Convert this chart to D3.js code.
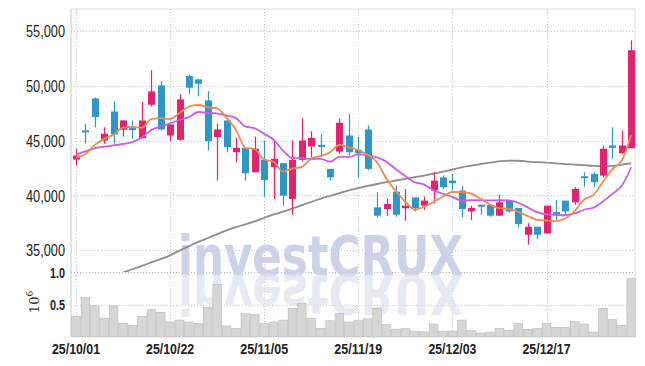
<!DOCTYPE html>
<html><head><meta charset="utf-8">
<script src="https://cdn.jsdelivr.net/npm/d3@7"></script>
<style>
html,body{margin:0;padding:0;background:#fff;}
svg{display:block;}
.tick text{font-family:"Liberation Sans",Arial,sans-serif;}
</style></head>
<body><svg id="c" width="645" height="366"></svg>
<script>
const dates = ["25/10/01","25/10/02","25/10/10","25/10/13","25/10/14","25/10/15","25/10/16","25/10/17","25/10/20","25/10/21",
"25/10/22","25/10/23","25/10/24","25/10/27","25/10/28","25/10/29","25/10/30","25/10/31","25/11/03","25/11/04",
"25/11/05","25/11/06","25/11/07","25/11/10","25/11/11","25/11/12","25/11/13","25/11/14","25/11/17","25/11/18",
"25/11/19","25/11/20","25/11/21","25/11/24","25/11/25","25/11/26","25/11/27","25/11/28","25/12/01","25/12/02",
"25/12/03","25/12/04","25/12/05","25/12/08","25/12/09","25/12/10","25/12/11","25/12/12","25/12/15","25/12/16",
"25/12/17","25/12/18","25/12/19","25/12/22","25/12/23","25/12/24","25/12/26","25/12/29","25/12/30","26/01/02"];
const opens = [43260,45920,48840,45000,47650,45980,46130,45210,48260,50030,
45460,45060,50890,50580,48660,45310,46830,43930,44330,42100,
43230,42560,42930,39670,43230,44450,44600,42410,43990,45460,
44150,46010,38900,38750,40330,38810,39810,39050,40430,41640,
41340,40430,38530,39140,39120,38140,39510,38840,36400,37130,
36520,38470,39510,39360,41740,41950,41800,44540,43840,44300];
const highs = [44240,46530,48900,46220,48570,46850,46830,48510,51410,50430,
46460,49210,51010,50640,49510,46530,46830,45240,44330,45370,
45000,45000,42930,45000,47040,45850,45610,42410,46980,47440,
45310,46370,40270,39670,40880,40580,39810,39880,42100,41800,
41950,40880,39050,39140,39120,40060,39510,38840,37470,37130,
39050,39570,39510,40730,42100,42100,44540,46220,45920,54150];
const lows = [42710,44700,46220,44700,44700,45370,45150,45210,48110,45920,
44940,45000,49270,49030,44090,41340,43930,43020,41340,42100,
39810,39670,39050,38230,43110,43480,43480,41340,43780,43630,
41590,42300,37990,38140,38050,37680,38530,38660,39270,40580,
40430,37990,37740,38230,38050,38140,38440,37070,35480,36000,
36520,37740,38140,39140,40790,40730,41640,43330,43800,44300];
const closes = [43630,45760,47140,45610,45550,46830,46040,46830,49480,46010,
46460,48750,49820,50180,44940,46010,44390,44330,42010,44240,
41400,43330,39970,43230,45000,45240,44540,41640,46620,43930,
43840,42410,38140,39210,38230,39050,38840,39510,41340,40730,
41100,38750,38840,38990,38140,39360,38530,37380,37130,36400,
39050,38290,38530,40580,41590,41190,44240,44330,44540,53240];
const volumes = [0.32,0.61,0.48,0.29,0.48,0.21,0.18,0.32,0.42,0.38,
0.23,0.26,0.23,0.21,0.46,0.81,0.17,0.13,0.36,0.35,
0.21,0.23,0.26,0.44,0.52,0.29,0.13,0.25,0.36,0.23,
0.26,0.28,0.44,0.19,0.12,0.13,0.09,0.08,0.20,0.09,
0.09,0.26,0.10,0.06,0.075,0.13,0.10,0.21,0.12,0.13,
0.21,0.15,0.15,0.24,0.20,0.075,0.44,0.27,0.18,0.90];
const ma5 = [43450,43750,44600,45150,45540,46180,46230,46170,46950,47040,
46960,47510,48100,48240,48030,47940,47070,45970,44340,44200,
43270,43060,42190,42430,42590,43350,43600,43930,44610,44390,
44110,43690,42990,41510,40370,39410,38690,38970,39390,39890,
40300,40290,40150,39680,39160,38820,38770,38480,38110,37760,
37700,37650,37880,38570,39610,40040,41230,42390,43180,45510];
const ma10 = [43720,44000,44300,44450,44560,44680,44850,45300,45950,46290,
46570,46870,47140,47600,47530,47450,47290,47040,46290,46110,
45610,45070,44080,43390,43390,43310,43330,43060,43520,43490,
43730,43640,43460,43060,42380,41760,41190,40980,40450,40130,
39860,39490,39560,39540,39530,39560,39530,39320,38900,38460,
38260,38210,38180,38340,38680,38870,39440,40130,40870,42560];
const ma60 = [31400,31700,32000,32300,32620,32950,33250,33560,33870,34170,
34520,34950,35350,35750,36100,36450,36800,37100,37350,37620,
37950,38250,38500,38800,39100,39400,39700,39950,40200,40450,
40650,40850,41030,41200,41350,41500,41650,41800,41980,42150,
42350,42550,42700,42850,42980,43100,43170,43150,43080,43020,
42980,42920,42850,42800,42750,42680,42650,42680,42800,42920];
const priceTicks = [35000,40000,45000,50000,55000];
const volTicks = [0.5,1.0];
const dateTicks = ["25/10/01","25/10/22","25/11/05","25/11/19","25/12/03","25/12/17"];

const svg = d3.select("#c");
const L = 71.3, R = 635.9, T = 9, PB = 272, VB = 337;
const x = d3.scaleBand().domain(dates).range([L, R]).padding(0);
const cx = d => x(d) + x.bandwidth()/2;
const y = d3.scaleLinear().domain([33000, 57000]).range([PB, T]);
const yv = d3.scaleLinear().domain([0, 1]).range([VB, PB]);

const UP = "#e6216f", DOWN = "#2f96c8";
const gridCol = "#c4c8dc";

svg.append("defs").append("clipPath").attr("id","pc")
  .append("rect").attr("x",L).attr("y",T).attr("width",R-L).attr("height",PB-T);

// frame
const g0 = svg.append("g");
g0.append("line").attr("x1",71).attr("x2",71).attr("y1",T).attr("y2",VB).attr("stroke","#c8c8c8");
g0.append("line").attr("x1",71).attr("x2",635).attr("y1",T).attr("y2",T).attr("stroke","#dcdcdc");
g0.append("line").attr("x1",635).attr("x2",635).attr("y1",T).attr("y2",VB).attr("stroke","#dcdcdc");

// grid
const gg = g0.append("g").attr("stroke",gridCol).attr("stroke-dasharray","1,2").attr("stroke-width",1);
priceTicks.forEach(p => gg.append("line").attr("x1",71).attr("x2",635).attr("y1",Math.round(y(p))+0.5).attr("y2",Math.round(y(p))+0.5));
volTicks.forEach(v => gg.append("line").attr("x1",71).attr("x2",635).attr("y1",Math.round(yv(v))+0.5).attr("y2",Math.round(yv(v))+0.5).attr("stroke", v===1?"#b0b0b8":gridCol));
dateTicks.forEach(d => gg.append("line").attr("x1",Math.round(cx(d))+0.5).attr("x2",Math.round(cx(d))+0.5).attr("y1",T).attr("y2",VB));

// watermark
const wm = svg.append("g").style("font-family","'DejaVu Sans','Liberation Sans',sans-serif").style("font-weight","bold");
wm.append("text").attr("x",178).attr("y",275).attr("textLength",285).attr("lengthAdjust","spacingAndGlyphs")
  .style("font-size","56px").attr("fill","#ccd2e7").text("investCRUX");

// volume bars
const vb = svg.append("g");
vb.selectAll("rect").data(dates).join("rect")
  .attr("x", d => x(d)+0.4).attr("width", x.bandwidth()-0.8)
  .attr("y", (d,i) => yv(volumes[i])).attr("height", (d,i) => VB - yv(volumes[i]))
  .attr("fill","#d6d6d6").attr("stroke","#bababa").attr("stroke-width",0.6);

// watermark reflection
wm.append("text").attr("transform","translate(0,550) scale(1,-1)").attr("x",178).attr("y",275)
  .attr("textLength",285).attr("lengthAdjust","spacingAndGlyphs")
  .style("font-size","56px").attr("fill","#dfe2ee").attr("opacity",0.7).text("investCRUX");

// price group
const pg = svg.append("g").attr("clip-path","url(#pc)");
const line = arr => d3.line().x((d,i) => cx(dates[i])).y(d => y(d)).curve(d3.curveMonotoneX)(arr);
pg.append("path").attr("d", line(ma60)).attr("fill","none").attr("stroke","#8c8c8c").attr("stroke-width",1.8);

const cg = pg.append("g");
dates.forEach((d,i) => {
  const up = closes[i] >= opens[i];
  const col = up ? UP : DOWN;
  const xc = Math.round(cx(d));
  cg.append("line").attr("x1",xc+0.5).attr("x2",xc+0.5).attr("y1",y(highs[i])).attr("y2",y(lows[i])).attr("stroke",col).attr("stroke-width",1.2);
  const top = y(Math.max(opens[i],closes[i])), bot = y(Math.min(opens[i],closes[i]));
  cg.append("rect").attr("x",xc-3).attr("width",7).attr("y",top).attr("height",Math.max(2,bot-top)).attr("fill",col);
});
pg.append("path").attr("d", line(ma10)).attr("fill","none").attr("stroke","#cc5ce6").attr("stroke-width",1.8);
pg.append("path").attr("d", line(ma5)).attr("fill","none").attr("stroke","#ef8a4f").attr("stroke-width",1.8);

// axes
const ya = svg.append("g").attr("transform","translate(65,0)")
  .call(d3.axisLeft(y).tickValues(priceTicks).tickFormat(d3.format(",")).tickSize(0));
ya.select(".domain").remove();
ya.selectAll("text").attr("x",0).attr("dy","0.36em").style("font-size","16px").attr("fill","#222")
  .attr("textLength",39).attr("lengthAdjust","spacingAndGlyphs");

const va = svg.append("g").attr("transform","translate(65,0)")
  .call(d3.axisLeft(yv).tickValues(volTicks).tickFormat(d3.format(".1f")).tickSize(0));
va.select(".domain").remove();
va.selectAll("text").attr("x",0).attr("dy","0.36em").style("font-size","15px").style("font-weight","bold").attr("fill","#222")
  .attr("textLength",15).attr("lengthAdjust","spacingAndGlyphs");

const xa = svg.append("g").attr("transform",`translate(0,${VB})`)
  .call(d3.axisBottom(x).tickValues(dateTicks).tickSize(0));
xa.select(".domain").remove();
xa.selectAll("text").attr("y",6).attr("dy","0.71em").style("font-size","15.5px").style("font-weight","bold").attr("fill","#222")
  .attr("textLength",48).attr("lengthAdjust","spacingAndGlyphs");

// 10^6 label
const ul = svg.append("text").attr("transform","translate(39,302) rotate(-90)")
  .attr("text-anchor","middle").style("font-family","'DejaVu Serif',serif").style("font-size","13px").attr("fill","#333");
ul.append("tspan").text("10");
ul.append("tspan").attr("dy",-6).style("font-size","9px").text("6");
</script></body></html>
